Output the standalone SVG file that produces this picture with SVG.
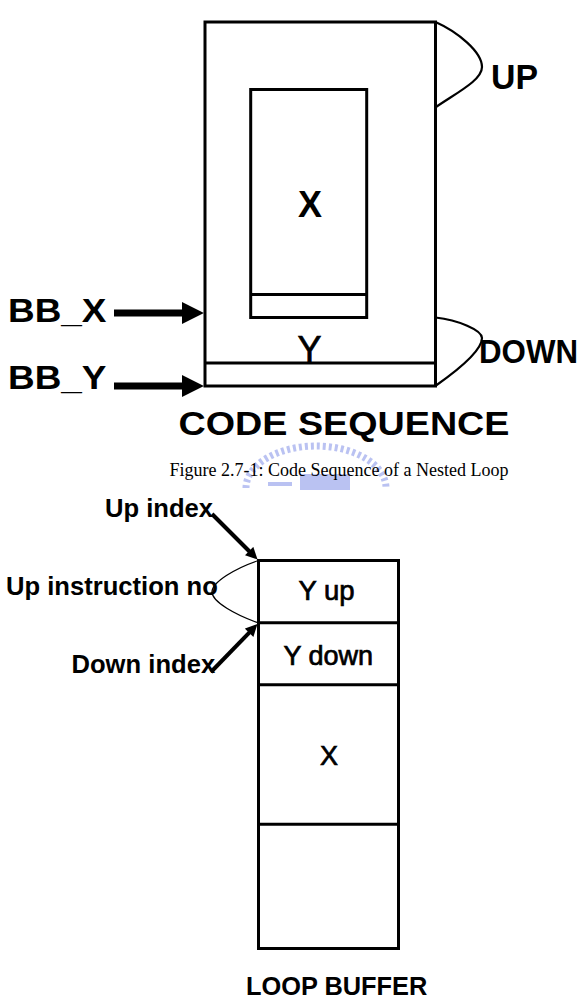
<svg xmlns="http://www.w3.org/2000/svg" width="585" height="1002" viewBox="0 0 585 1002">
<style>
.box{fill:none;stroke:#000;stroke-width:3}
.div{stroke:#000;stroke-width:3}
.brace{fill:none;stroke:#000;stroke-width:2.2}
.thin{fill:none;stroke:#000;stroke-width:1.3}
.b{font-family:"Liberation Sans",Arial,sans-serif;font-weight:bold;fill:#000}
.r{font-family:"Liberation Sans",Arial,sans-serif;font-weight:normal;fill:#000;stroke:#000;stroke-width:0.7}
.cap{font-family:"Liberation Serif","Times New Roman",serif;font-size:18px;fill:#000}
.wm{fill:none;stroke:#aab4ef;stroke-width:7;stroke-dasharray:3 3}
.wmf{fill:#aab4ef}
</style>
<defs>
<marker id="bigHead" markerUnits="userSpaceOnUse" viewBox="0 0 10 10" refX="0.5" refY="5" markerWidth="22" markerHeight="22" orient="auto">
<path d="M0,0 L10,5 L0,10 z" fill="#000"/>
</marker>
<marker id="smallHead" markerUnits="userSpaceOnUse" viewBox="0 0 10 10" refX="0.5" refY="5" markerWidth="13" markerHeight="12" orient="auto">
<path d="M0,0 L10,5 L0,10 z" fill="#000"/>
</marker>
</defs>
<rect width="585" height="1002" fill="#fff"/>

<g id="watermark" opacity="0.8">
<path class="wm" d="M246,488 A70,42 0 0 1 386,488"/>
<rect class="wmf" x="268" y="482" width="24" height="4"/>
<rect class="wmf" x="300" y="474" width="50" height="16"/>
</g>

<g id="code-sequence">
<rect class="box" x="205" y="22" width="230.5" height="364"/>
<line class="div" x1="205" y1="363" x2="435.5" y2="363"/>
<text class="r" x="309.5" y="362" font-size="36" text-anchor="middle">Y</text>
<text class="b" x="178.5" y="435" font-size="33" textLength="331" lengthAdjust="spacingAndGlyphs">CODE SEQUENCE</text>
</g>

<g id="inner-x">
<rect class="box" x="250.7" y="89.5" width="116" height="228"/>
<line class="div" x1="250.7" y1="294.5" x2="366.7" y2="294.5"/>
<text class="b" x="310" y="217" font-size="36" text-anchor="middle">X</text>
</g>

<g id="up-brace">
<path class="brace" d="M435.5,22 C458,32 482,52 482,67 C482,80 458,92 436,107"/>
<text class="b" x="491" y="88.5" font-size="35" textLength="47" lengthAdjust="spacingAndGlyphs">UP</text>
</g>

<g id="down-brace">
<path class="brace" d="M435.5,317.5 C458,320 482,330 482,338 C482,350 458,370 436,385.5"/>
<text class="b" x="479" y="362.5" font-size="33" textLength="99" lengthAdjust="spacingAndGlyphs">DOWN</text>
</g>

<g id="bb-labels">
<text class="b" x="8" y="321.7" font-size="33" textLength="98.5" lengthAdjust="spacingAndGlyphs">BB_X</text>
<text class="b" x="8" y="388.5" font-size="33" textLength="98.5" lengthAdjust="spacingAndGlyphs">BB_Y</text>
</g>

<g id="caption">
<text class="cap" x="339" y="476" text-anchor="middle">Figure 2.7-1: Code Sequence of a Nested Loop</text>
</g>

<g id="loop-buffer">
<rect class="box" x="258.5" y="560.5" width="140" height="388"/>
<line class="div" x1="258.5" y1="622.7" x2="398.5" y2="622.7"/>
<line class="div" x1="258.5" y1="684.7" x2="398.5" y2="684.7"/>
<line class="div" x1="258.5" y1="824.3" x2="398.5" y2="824.3"/>
<text class="r" x="326.5" y="600" font-size="27.5" text-anchor="middle">Y up</text>
<text class="r" x="328.3" y="665" font-size="27" text-anchor="middle">Y down</text>
<text class="r" x="329" y="764.5" font-size="27" text-anchor="middle">X</text>
<text class="b" x="246" y="995" font-size="25.3" textLength="181.3" lengthAdjust="spacingAndGlyphs">LOOP BUFFER</text>
</g>

<g id="index-labels">
<text class="b" x="105" y="516.7" font-size="25.6">Up index</text>
<text class="b" x="6" y="595" font-size="25.6">Up instruction no</text>
<text class="b" x="71.5" y="672.5" font-size="25.6">Down index</text>
<path class="thin" d="M258.5,560.5 C236,568 212,582 212,592 C212,602 236,615 258.5,623"/>
</g>

<g id="connectors">
<line x1="114" y1="313" x2="183" y2="313" stroke="#000" stroke-width="7" marker-end="url(#bigHead)"/>
<line x1="114" y1="386" x2="183" y2="386" stroke="#000" stroke-width="7" marker-end="url(#bigHead)"/>
<line x1="212" y1="514" x2="249.5" y2="551.5" stroke="#000" stroke-width="4" marker-end="url(#smallHead)"/>
<line x1="211" y1="672" x2="249.5" y2="632.3" stroke="#000" stroke-width="4" marker-end="url(#smallHead)"/>
</g>
</svg>
